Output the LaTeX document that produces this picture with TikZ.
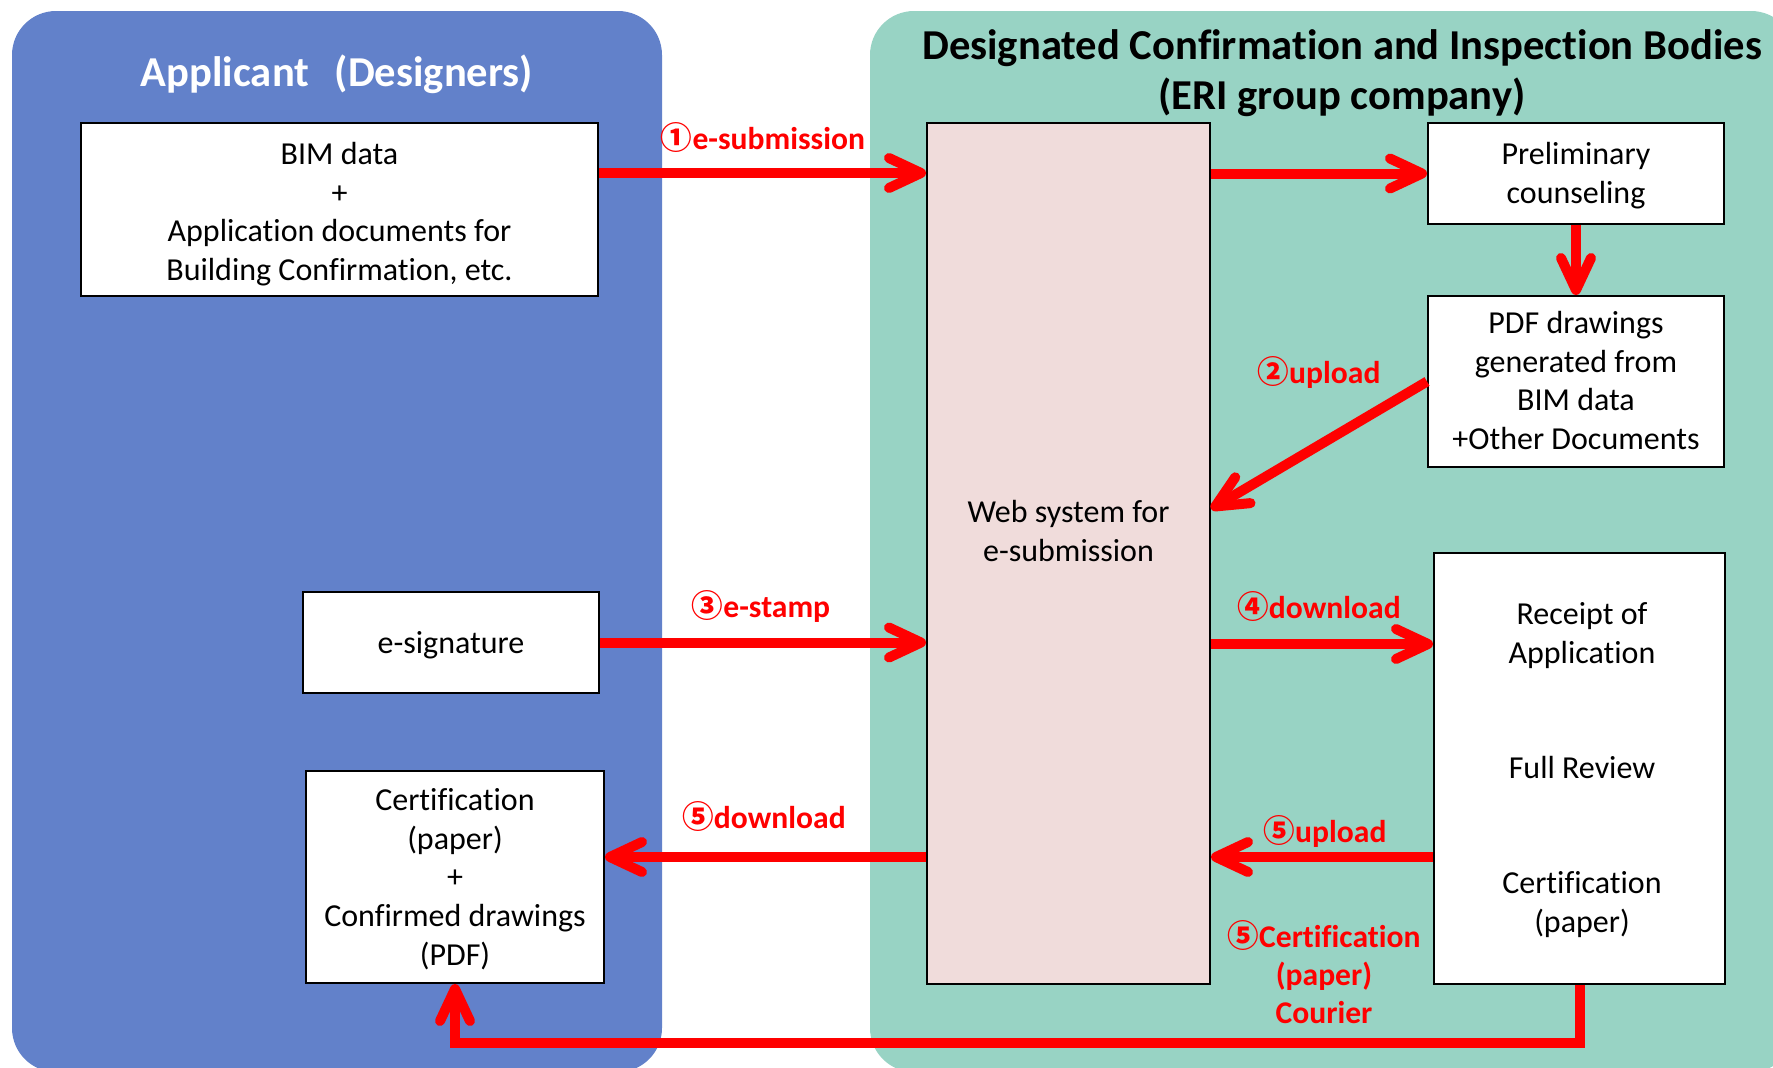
\documentclass[tikz,border=0pt]{standalone}
\usepackage{fontspec}
\setmainfont{Carlito}[Ligatures=CommonOff]
\newfontfamily\circfont{Noto Sans CJK JP}
\usetikzlibrary{arrows.meta}
\definecolor{panelblue}{HTML}{6281CA}
\definecolor{panelgreen}{HTML}{98D3C4}
\definecolor{webpink}{HTML}{F0DCDB}
\definecolor{arrred}{HTML}{FF0000}
\newcommand\cnum[1]{{\circfont #1}}
\newcommand\lowstrut{\rule[-0.37\baselineskip]{0pt}{1.3\baselineskip}}
\tikzset{
  struts/.style={execute at begin node=\lowstrut, execute at end node=\lowstrut},
  labstruts/.style={execute at begin node=\strut, execute at end node=\strut},
  box/.style={draw=black, line width=1pt, fill=white, align=center, inner sep=0pt,
              font=\fontsize{16}{19.4}\selectfont, struts},
  plain/.style={align=center, inner sep=0pt, font=\fontsize{16}{19.4}\selectfont, struts},
  title/.style={align=center, inner sep=0pt, font=\fontsize{21.3}{25}\selectfont\bfseries, struts},
  lab/.style={align=center, inner sep=0pt, text=arrred, font=\fontsize{15.8}{19}\selectfont\bfseries, labstruts},
  redarrow/.style={draw=arrred, line width=5pt, -{Straight Barb[length=16pt,width=15pt,round]}},
}
\begin{document}
\begin{tikzpicture}[x=0.5pt,y=-0.5pt]
\clip (0,0) rectangle (1773,1067);
\fill[white] (0,0) rectangle (1773,1067);
% panels
\fill[panelblue, rounded corners=22pt] (12,11) rectangle (662,1072);
\fill[panelgreen, rounded corners=22pt] (870,11) rectangle (1795,1072);
% titles
\node[title, text=white] (tA) at (337,72) {Applicant\hspace{0.6em}(Designers)};
\node[title, text=black] (tB) at (1342,79.2) {Designated Confirmation and Inspection Bodies\\(ERI group company)};
% boxes
\node[box, minimum width=258.5pt, minimum height=86.5pt] (bim) at (339.5,209.5) {};
\node[plain] (bimt) at (339.5,218.6)
  {BIM data\\+\\Application documents for\\Building Confirmation, etc.};
\node[box, minimum width=148pt, minimum height=50.5pt] (esig) at (451,642.5) {e-signature};
\node[box, minimum width=149pt, minimum height=106pt] (certL) at (455,877) {};
\node[plain] (certLt) at (455,884)
  {Certification\\(paper)\\+\\Confirmed drawings\\(PDF)};
\node[box, fill=webpink, minimum width=141.5pt, minimum height=430.5pt] (web) at (1068.5,553.5) {};
\node[plain] (webt) at (1068.5,538) {Web system for\\e-submission};
\node[box, minimum width=148pt, minimum height=50.5pt] (prelim) at (1576,173.5) {};
\node[plain] (prelimt) at (1576,180.2) {Preliminary\\counseling};
\node[box, minimum width=148pt, minimum height=85.5pt] (pdf) at (1576,381.5) {};
\node[plain] (pdft) at (1576,387.6)
  {PDF drawings\\generated from\\BIM data\\+Other Documents};
\node[box, minimum width=145.5pt, minimum height=215.5pt] (rec) at (1579.5,768.5) {};
\node[plain] (rec1) at (1582,640.4) {Receipt of\\Application};
\node[plain] (rec2) at (1582,768) {Full Review};
\node[plain] (rec3) at (1582,908.9) {Certification\\(paper)};
% arrows
\draw[redarrow] (bim.east |- 0,173) -- (web.west |- 0,173);
\draw[redarrow] (web.east |- prelim.west) -- (prelim.west);
\draw[redarrow] (prelim.south) -- (pdf.north);
\draw[redarrow] (pdf.west) -- (web.east |- 0,509);
\draw[redarrow] (esig.east) -- (web.west |- esig.east);
\draw[redarrow] (web.east |- 0,644) -- (rec.west |- 0,644);
\draw[redarrow] (rec.west |- 0,857) -- (web.east |- 0,857);
\draw[redarrow] (web.west |- 0,857) -- (certL.east |- 0,857);
\draw[redarrow] (rec.south) -- (rec.south |- 0,1043) -| (certL.south);
% labels
\node[lab] (l1) at (763,141.5) {\cnum{①}e-submission};
\node[lab] (l2) at (1319,375.5) {\cnum{②}upload};
\node[lab] (l3) at (761,609.5) {\cnum{③}e-stamp};
\node[lab] (l4) at (1319,610.5) {\cnum{④}download};
\node[lab] (l5) at (1325,834.5) {\cnum{⑤}upload};
\node[lab] (l6) at (764,821) {\cnum{⑤}download};
\node[lab] (l7) at (1324,978) {\cnum{⑤}Certification\\(paper)\\Courier};
\end{tikzpicture}
\end{document}
